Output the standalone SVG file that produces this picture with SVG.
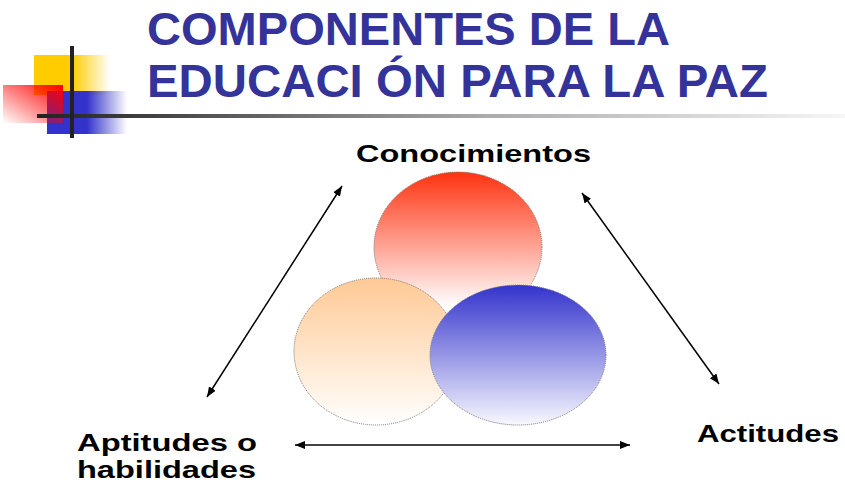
<svg xmlns="http://www.w3.org/2000/svg" width="845" height="486" viewBox="0 0 845 486">
<style>
.title{font-family:"Liberation Sans",Arial,sans-serif;font-weight:bold;font-size:46px;fill:#333399}
.lbl{font-family:"Liberation Sans",Arial,sans-serif;font-weight:bold;font-size:24px;fill:#000}
.ell{stroke:#777;stroke-width:1;stroke-dasharray:1 1}
.conn{stroke:#000;stroke-width:1.5;fill:none;marker-start:url(#ah);marker-end:url(#ah)}
</style>
<defs>
<marker id="ah" viewBox="0 0 10 8" refX="10" refY="4" markerWidth="10" markerHeight="8" markerUnits="userSpaceOnUse" orient="auto-start-reverse">
<path d="M0,0 L10,4 L0,8 z" fill="#000"/>
</marker>
<linearGradient id="gy" x1="0" y1="0" x2="1" y2="0">
<stop offset="0" stop-color="#FFCC00"/><stop offset="0.5" stop-color="#FFCC00"/><stop offset="1" stop-color="#FFCC00" stop-opacity="0"/>
</linearGradient>
<linearGradient id="gb" x1="0" y1="0" x2="1" y2="0">
<stop offset="0" stop-color="#3333CC"/><stop offset="0.5" stop-color="#3333CC"/><stop offset="1" stop-color="#3333CC" stop-opacity="0"/>
</linearGradient>
<linearGradient id="gr" x1="1" y1="0" x2="0" y2="1">
<stop offset="0" stop-color="#FF0000"/><stop offset="1" stop-color="#FF0000" stop-opacity="0"/>
</linearGradient>
<linearGradient id="gl" gradientUnits="userSpaceOnUse" x1="37" y1="0" x2="845" y2="0">
<stop offset="0" stop-color="#222"/><stop offset="0.15" stop-color="#444"/><stop offset="0.55" stop-color="#aaa"/><stop offset="1" stop-color="#f6f6f6"/>
</linearGradient>
<linearGradient id="cr" x1="0" y1="0" x2="0" y2="1">
<stop offset="0" stop-color="#FF3311"/><stop offset="0.9" stop-color="#FFFFFF"/>
</linearGradient>
<linearGradient id="co" x1="0" y1="0" x2="0" y2="1">
<stop offset="0" stop-color="#FFC994"/><stop offset="1" stop-color="#FFFFFF"/>
</linearGradient>
<linearGradient id="cb" x1="0" y1="0" x2="0" y2="1">
<stop offset="0" stop-color="#3333CC"/><stop offset="1" stop-color="#F8F8FF"/>
</linearGradient>
</defs>
<rect width="845" height="486" fill="#fff"/>
<g id="decoration">
<rect x="34" y="55" width="76" height="40" fill="url(#gy)"/>
<rect x="47" y="91" width="80" height="43" fill="url(#gb)"/>
<rect x="3" y="85" width="60" height="38" fill="url(#gr)"/>
<rect x="37" y="114" width="808" height="4" fill="url(#gl)"/>
<rect x="70" y="46" width="4" height="92" fill="#222"/>
</g>
<g id="title">
<text class="title" x="147" y="45" textLength="523" lengthAdjust="spacingAndGlyphs">COMPONENTES DE LA</text>
<text class="title" x="147" y="97" textLength="621" lengthAdjust="spacingAndGlyphs">EDUCACI ÓN PARA LA PAZ</text>
</g>
<g id="circles">
<ellipse id="circle-red" class="ell" cx="458" cy="247" rx="84" ry="75" fill="url(#cr)"/>
<ellipse id="circle-orange" class="ell" cx="376" cy="351.5" rx="82" ry="73.5" fill="url(#co)"/>
<ellipse id="circle-blue" class="ell" cx="518" cy="355" rx="88" ry="70" fill="url(#cb)"/>
</g>
<g id="connectors">
<line class="conn" x1="207" y1="397" x2="342" y2="186"/>
<line class="conn" x1="582" y1="193" x2="719" y2="384"/>
<line class="conn" x1="295" y1="445" x2="630" y2="445" style="stroke:#444;stroke-width:2"/>
</g>
<g id="node-conocimientos">
<text class="lbl" x="356" y="161.5" font-size="23" textLength="235" lengthAdjust="spacingAndGlyphs">Conocimientos</text>
</g>
<g id="node-aptitudes">
<text class="lbl" x="77" y="451" textLength="180" lengthAdjust="spacingAndGlyphs">Aptitudes o</text>
<text class="lbl" x="77" y="478" textLength="179" lengthAdjust="spacingAndGlyphs">habilidades</text>
</g>
<g id="node-actitudes">
<text class="lbl" x="697" y="441.5" textLength="142" lengthAdjust="spacingAndGlyphs">Actitudes</text>
</g>
</svg>
